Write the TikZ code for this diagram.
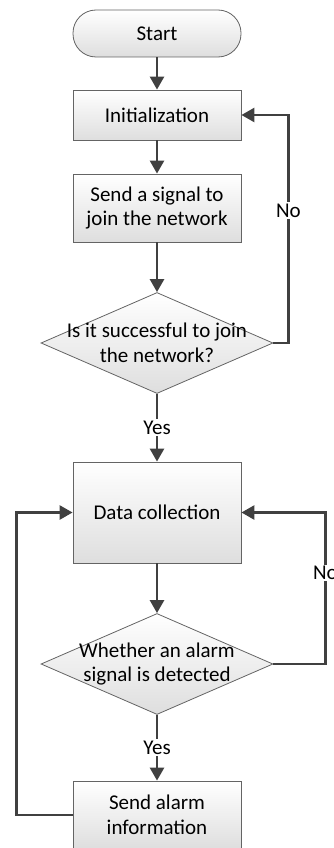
\documentclass[tikz,border=0pt]{standalone}
\usepackage{fontspec}
\setmainfont{Carlito}
\usepackage{tikz}
\usetikzlibrary{arrows.meta, shapes.geometric, positioning}

\definecolor{linegray}{RGB}{64,64,64}
\definecolor{edgegray}{RGB}{100,100,100}
\definecolor{boxgray}{RGB}{222,222,222}

\tikzset{
  boxtext/.style={align=center, font=\fontsize{21}{24.5}\selectfont},
  block/.style={draw=edgegray, line width=0.8pt, top color=white, bottom color=boxgray,
    minimum width=168pt, inner sep=0pt, boxtext},
  terminal/.style={block, rounded corners=23pt, minimum height=47pt},
  decision/.style={block, diamond, minimum width=232pt, minimum height=101pt},
  flow/.style={draw=linegray, line width=2.6pt, -{Triangle[length=13pt,width=14pt]}},
  lbl/.style={fill=white, inner sep=1.5pt, font=\fontsize{21}{24.5}\selectfont}
}

\begin{document}
\begin{tikzpicture}[x=1pt, y=-1pt]
  \useasboundingbox (0,0) rectangle (333,848);

  % nodes of the flow, top to bottom
  \node[terminal] (start) at (157,33.5) {Start};
  \node[block, minimum height=50pt] (init) at (157,115) {Initialization};
  \node[block, minimum height=68pt] (signal) at (157,208) {Send a signal to\\join the network};
  \node[decision, label={[boxtext]center:Is it successful to join\\the network?}] (join) at (157,343) {};
  \node[block, minimum height=101pt] (collect) at (157,512.5) {Data collection};
  \node[decision, label={[boxtext]center:Whether an alarm\\signal is detected}] (alarm) at (157,664) {};
  \node[block, minimum height=68pt] (send) at (157,815) {Send alarm\\information};

  % straight arrows
  \draw[flow] (start) -- (init);
  \draw[flow] (init) -- (signal);
  \draw[flow] (signal) -- (join);
  \draw[flow] (join) -- node[lbl] (yes1) {Yes} (collect);
  \draw[flow] (collect) -- (alarm);
  \draw[flow] (alarm) -- node[lbl] (yes2) {Yes} (send);

  % loops back
  \draw[flow] (join.east) -- ++(15,0) |- node[lbl, pos=0.29] (no1) {No} (init.east);
  \draw[flow] (alarm.east) -- ++(52,0) |- node[lbl, pos=0.3] (no2) {No} (collect.east);
  \draw[flow] (send.west) -- ++(-56,0) |- (collect.west);
\end{tikzpicture}
\end{document}
